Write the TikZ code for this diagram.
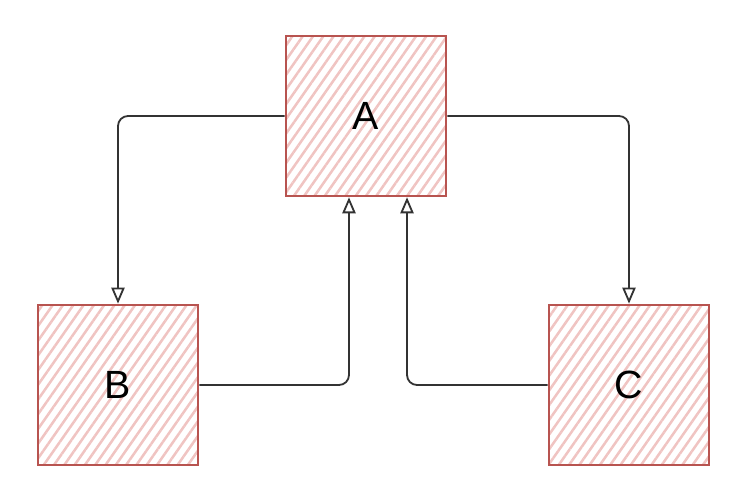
\documentclass[tikz,border=0pt]{standalone}
\usepackage{fontspec}
\setmainfont{Liberation Sans}
\usetikzlibrary{arrows.meta}
\usetikzlibrary{patterns.meta}

\definecolor{boxline}{HTML}{B85450}
\definecolor{boxhatch}{HTML}{F0C4C2}
\definecolor{linkline}{HTML}{333333}

\tikzset{
  box/.style={draw=boxline, line width=1.9pt, minimum size=4cm, inner sep=0pt,
    pattern={Lines[angle=55, distance=6pt, line width=1.8pt]}, pattern color=boxhatch,
    font=\fontsize{28}{32}\selectfont},
  link/.style={draw=linkline, line width=1.3pt, rounded corners=0.25cm,
    -{Triangle[open, length=4mm, width=3.3mm, line width=1.3pt]}}
}

\begin{document}
\begin{tikzpicture}[x=0.025cm, y=-0.025cm]
\useasboundingbox (0,0) rectangle (734,498);
\node[box] (A) at (366,116) {A};
\node[box] (B) at (118,385) {B};
\node[box] (C) at (629,385) {C};
\draw[link] (A.west) -| (B.north);
\draw[link] (A.east) -| (C.north);
\draw[link] (B.east) -| ([xshift=-0.425cm]A.south);
\draw[link] (C.west) -| ([xshift=1.025cm]A.south);
\end{tikzpicture}
\end{document}
